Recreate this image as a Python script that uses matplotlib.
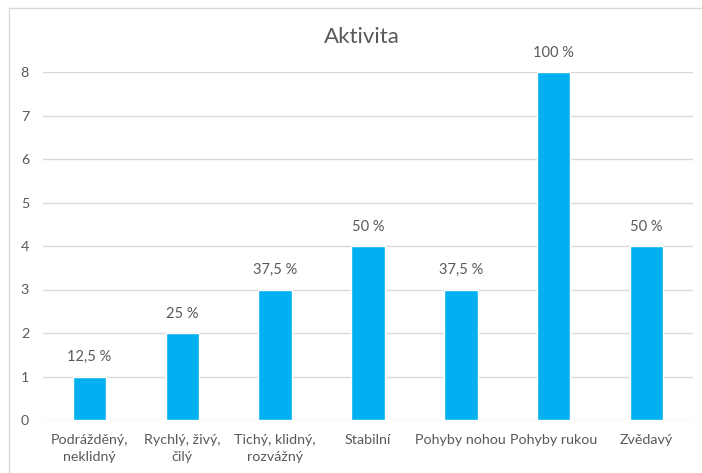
import matplotlib.pyplot as plt
from matplotlib.patches import Rectangle

# counts per category, 8 respondents in total
categories = ["Podrážděný,\nneklidný", "Rychlý, živý,\nčilý", "Tichý, klidný,\nrozvážný",
              "Stabilní", "Pohyby nohou", "Pohyby rukou", "Zvědavý"]
counts = [1, 2, 3, 4, 3, 8, 4]
total = 8
yticks = [0, 1, 2, 3, 4, 5, 6, 7, 8]

plt.rcParams['font.family'] = ['Lato', 'DejaVu Sans']
text_color = "#595959"
bar_color = "#00B0F0"

fig = plt.figure(figsize=(7.02, 4.73), dpi=100)
ax = fig.add_axes([43 / 702, 1 - 420 / 473, 650 / 702, 348 / 473])

# chart border
fig.patches.append(Rectangle((9 / 702, -0.1), 1.0, 1 - 8 / 473 + 0.1, transform=fig.transFigure,
                             fill=False, edgecolor="#D9D9D9", linewidth=1))

x = range(len(categories))
bars = ax.bar(x, counts, width=0.36, color=bar_color, edgecolor="white", linewidth=1, zorder=3)

for b, c in zip(bars, counts):
    pct = c / total * 100
    label = ("%g" % pct).replace(".", ",") + " %"
    ax.annotate(label, (b.get_x() + b.get_width() / 2, b.get_height()),
                xytext=(0, 14), textcoords="offset points", ha="center", va="center",
                fontsize=10.5, color=text_color, zorder=4,
                bbox=dict(boxstyle="square,pad=0.3", facecolor="white", edgecolor="none"))

ax.set_xlim(-0.5, len(categories) - 0.5)
ax.set_ylim(0, 8)
ax.set_yticks(yticks)
ax.set_xticks(list(x))
ax.set_xticklabels(categories, ha="center", multialignment="center", linespacing=1.5)
ax.tick_params(axis="both", length=0, colors=text_color, labelsize=10.3)
ax.tick_params(axis="y", pad=10)
ax.tick_params(axis="x", pad=10)
ax.grid(axis="y", color="#D9D9D9", linewidth=1, zorder=0)
for s in ax.spines.values():
    s.set_visible(False)

fig.text(0.515, 1 - 37 / 473, "Aktivita", ha="center", va="center", fontsize=16, color=text_color)

fig.savefig("out.png", dpi=100)
